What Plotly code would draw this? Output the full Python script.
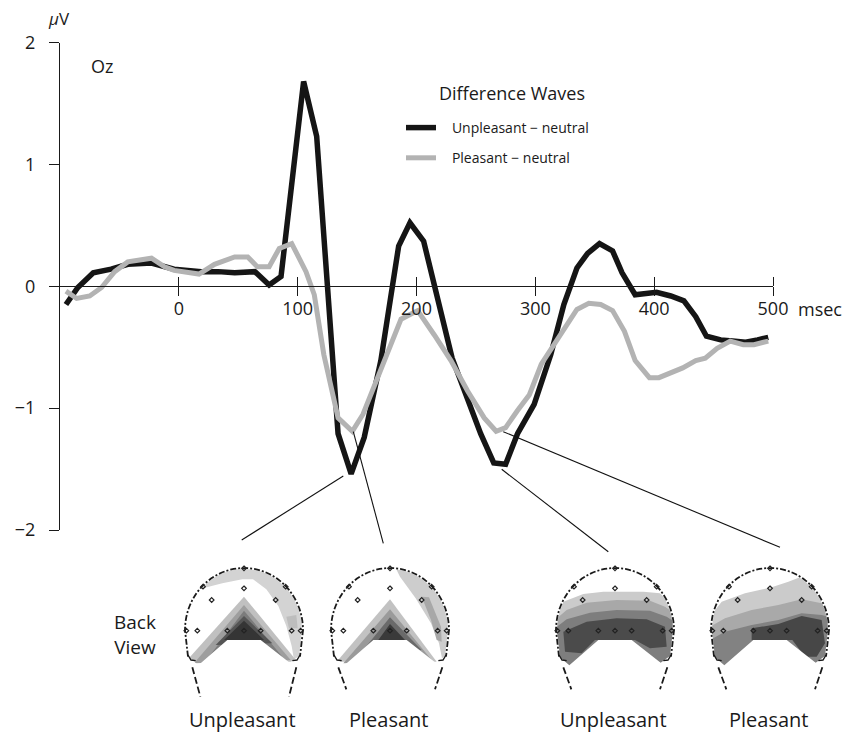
import math
import plotly.graph_objects as go

# ---------------- data ----------------
time_unpleasant = [-95, -85, -72, -57, -43, -32, -23, -4, 19, 33, 47, 64, 76, 86, 105, 116,
                   134, 145, 156, 170, 185, 194.5, 206, 230, 254, 265, 275, 285, 299, 313, 324,
                   335, 344, 354, 365, 373, 384, 402, 414, 425, 435, 444, 456, 466, 477, 487, 496]
uv_unpleasant = [-0.15, -0.01, 0.11, 0.14, 0.18, 0.19, 0.19, 0.14, 0.12, 0.12, 0.11, 0.12, 0.01,
                 0.08, 1.68, 1.23, -1.21, -1.54, -1.24, -0.61, 0.33, 0.52, 0.37, -0.59, -1.21,
                 -1.45, -1.46, -1.21, -0.97, -0.56, -0.15, 0.15, 0.27, 0.35, 0.29, 0.11, -0.07,
                 -0.05, -0.08, -0.12, -0.25, -0.41, -0.44, -0.45, -0.46, -0.44, -0.42]

time_pleasant = [-95, -86, -75, -65, -54, -43, -23, -12, -4, 6, 17, 30, 47, 58, 66, 76, 84.5, 95,
                 107, 114, 122, 134, 146, 155, 164, 176, 187, 195, 201, 215, 229, 243, 257, 267,
                 275, 285, 295, 305, 316, 327, 335, 345, 355, 365, 375, 384, 396, 404, 414, 424,
                 435, 443, 453, 464, 475, 484, 496]
uv_pleasant = [-0.04, -0.10, -0.08, -0.01, 0.12, 0.20, 0.23, 0.16, 0.13, 0.12, 0.10, 0.18, 0.24,
               0.24, 0.16, 0.16, 0.31, 0.35, 0.12, -0.07, -0.56, -1.08, -1.19, -1.05, -0.83,
               -0.53, -0.27, -0.23, -0.20, -0.40, -0.61, -0.86, -1.08, -1.19, -1.16, -1.02,
               -0.89, -0.64, -0.48, -0.31, -0.19, -0.14, -0.15, -0.20, -0.37, -0.61, -0.75,
               -0.75, -0.71, -0.67, -0.61, -0.59, -0.51, -0.45, -0.48, -0.48, -0.45]

x_tickvals = [0, 100, 200, 300, 400, 500]
x_ticktext = ["0", "100", "200", "300", "400", "500"]
y_tickvals = [-2, -1, 0, 1, 2]

series_names = ["Unpleasant \u2212 neutral", "Pleasant \u2212 neutral"]
legend_title = "Difference Waves"
map_labels = ["Unpleasant", "Pleasant", "Unpleasant", "Pleasant"]

# ---------------- layout geometry ----------------
W, H = 843, 732
FONT = "Open Sans, Noto Sans, DejaVu Sans, sans-serif"
INK = "#1a1a1a"
X_DOM = [60 / W, 773 / W]
Y_DOM = [1 - 530 / H, 1 - 42.5 / H]
zero_pos = Y_DOM[0] + (0 - (-2)) / 4 * (Y_DOM[1] - Y_DOM[0])


def px(x):
    return x / W


def py(y):
    return 1 - y / H


PAD = "&nbsp;&nbsp;&nbsp;"

fig = go.Figure()
fig.add_trace(go.Scatter(x=time_unpleasant, y=uv_unpleasant, mode="lines",
                         name=PAD + series_names[0],
                         line=dict(color="#151515", width=5.5), legendgroup="a",
                         hoverinfo="skip"))
fig.add_trace(go.Scatter(x=time_pleasant, y=uv_pleasant, mode="lines",
                         name=PAD + series_names[1],
                         line=dict(color="#b3b3b3", width=5), legendgroup="b",
                         xaxis="x2", hoverinfo="skip"))

shapes = []
annotations = []

# pointer lines from the waves to the maps
pointer_lines = [((343.3, 476), (241.7, 540)), ((353.3, 431.7), (383.3, 543.3)),
                 ((501.7, 469.3), (608.3, 551.7)), ((503.3, 431.7), (780, 547.3))]
for (x0, y0), (x1, y1) in pointer_lines:
    shapes.append(dict(type="line", xref="paper", yref="paper", x0=px(x0), y0=py(y0),
                       x1=px(x1), y1=py(y1), line=dict(color="#111", width=1.1)))

# ---------------- topographic maps (decorative, drawn as shapes) ----------------
map_centres = [244, 390, 615, 770]
OY = 560


def to_path(ox, pts, close=True):
    s = ""
    for i, (dx, dy) in enumerate(pts):
        s += ("M" if i == 0 else "L") + f"{px(ox + dx / 3):.5f},{py(OY + dy / 3):.5f}"
    return s + ("Z" if close else "")


def poly(ox, pts, color):
    shapes.append(dict(type="path", xref="paper", yref="paper", path=to_path(ox, pts),
                       fillcolor=color, line=dict(width=0), layer="above"))


def stroke(ox, pts, width=1.6, dash=None, color=INK):
    line = dict(color=color, width=width)
    if dash:
        line["dash"] = dash
    shapes.append(dict(type="path", xref="paper", yref="paper",
                       path=to_path(ox, pts, close=False), fillcolor="rgba(0,0,0,0)",
                       line=line))


arc_in = [(195 + 174 * math.cos(math.radians(a)), 210 - 183 * math.sin(math.radians(a)))
          for a in range(180, -1, -6)]
domain = arc_in + [(369, 210), (360, 288), (332, 308), (245, 240), (145, 240), (58, 316),
                   (30, 292), (21, 210)]
box = [(-30, -12), (420, -12), (420, 352), (-30, 352)]
arc_out = [(195 + 177 * math.cos(math.radians(a)), 210 - 186 * math.sin(math.radians(a)))
           for a in range(180, -1, -4)]
outline = [(27, 290), (18, 210)] + arc_out + [(372, 210), (363, 290)]
electrodes = [(195, 25), (195, 85), (98, 120), (290, 120), (72, 80), (320, 80), (22, 212),
              (55, 212), (145, 212), (195, 212), (245, 212), (338, 212), (365, 212)]

layers = [
    [  # unpleasant, 145 ms
        ([(-15, -5), (405, -5), (405, 335), (-15, 335)], "#d3d3d3"),
        ([(0, 95), (60, 88), (130, 70), (190, 58), (222, 58), (262, 88), (298, 138), (322, 198),
          (338, 258), (345, 300), (345, 335), (0, 335)], "#ffffff"),
        ([(322, 170), (352, 165), (356, 205), (330, 205)], "#bdbdbd"),
        ([(195, 110), (355, 305), (20, 305)], "#c0c0c0"),
        ([(195, 135), (335, 300), (45, 310)], "#9e9e9e"),
        ([(195, 152), (310, 290), (75, 310)], "#7c7c7c"),
        ([(195, 168), (280, 250), (110, 255)], "#555555"),
        ([(195, 182), (255, 240), (135, 240)], "#353535"),
    ],
    [  # pleasant, 145 ms
        ([(205, 10), (400, 10), (400, 335), (352, 300), (342, 250), (318, 190), (272, 115),
          (225, 50)], "#cdcdcd"),
        ([(290, 110), (312, 112), (348, 200), (350, 245), (335, 240), (318, 180)], "#a8a8a8"),
        ([(195, 118), (335, 305), (35, 305)], "#c2c2c2"),
        ([(195, 148), (320, 300), (55, 310)], "#9a9a9a"),
        ([(195, 172), (290, 270), (90, 300)], "#6a6a6a"),
        ([(195, 192), (240, 240), (160, 240)], "#3a3a3a"),
    ],
    [  # unpleasant, 275 ms
        ([(15, 160), (40, 125), (100, 102), (160, 95), (280, 95), (330, 100), (360, 130),
          (380, 150), (380, 335), (15, 335)], "#cbcbcb"),
        ([(15, 180), (50, 150), (110, 128), (200, 120), (300, 122), (345, 140), (380, 165),
          (380, 335), (15, 335)], "#a8a8a8"),
        ([(15, 205), (50, 178), (120, 158), (200, 150), (300, 152), (350, 170), (380, 190),
          (380, 335), (15, 335)], "#7e7e7e"),
        ([(40, 215), (110, 185), (200, 175), (290, 178), (345, 200), (350, 260), (300, 265),
          (255, 240), (135, 240), (95, 280), (45, 275)], "#4b4b4b"),
    ],
    [  # pleasant, 275 ms
        ([(15, 170), (50, 125), (120, 100), (200, 82), (250, 65), (285, 52), (330, 75),
          (370, 120), (390, 140), (390, 335), (15, 335)], "#cbcbcb"),
        ([(15, 200), (60, 175), (140, 150), (220, 135), (290, 118), (350, 130), (390, 150),
          (390, 335), (15, 335)], "#a9a9a9"),
        ([(15, 240), (60, 215), (140, 195), (220, 180), (290, 160), (350, 165), (390, 175),
          (390, 335), (15, 335)], "#828282"),
        ([(140, 205), (220, 192), (290, 168), (350, 180), (360, 250), (335, 290), (300, 290),
          (262, 240), (140, 240)], "#474747"),
    ],
]

for i, cx in enumerate(map_centres):
    ox = cx - 65
    for pts, col in layers[i]:
        poly(ox, pts, col)
    # white mask outside the head (box one way, head domain the other way => hole)
    mask_path = to_path(ox, box) + to_path(ox, list(reversed(domain)))
    shapes.append(dict(type="path", xref="paper", yref="paper", path=mask_path,
                       fillcolor="#ffffff", line=dict(width=0), layer="above"))
    # head outline, ear hooks and neck
    stroke(ox, outline, width=1.8, dash="6px,2px,2px,2px")
    stroke(ox, [(27, 285), (36, 300), (50, 302)], width=1.4)
    stroke(ox, [(363, 285), (354, 300), (340, 302)], width=1.4)
    neck_end = 410 if i == 0 else 388
    stroke(ox, [(40, 322), (64, neck_end)], width=1.8, dash="7px,3px")
    stroke(ox, [(352, 322), (330, neck_end)], width=1.8, dash="7px,3px")
    # electrodes
    for ex, ey in electrodes:
        d = 7
        shapes.append(dict(type="path", xref="paper", yref="paper",
                           path=to_path(ox, [(ex, ey - d), (ex + d, ey), (ex, ey + d),
                                             (ex - d, ey)]),
                           fillcolor="rgba(0,0,0,0)", line=dict(color="#222", width=1.2)))
    annotations.append(dict(xref="paper", yref="paper", x=px(cx - 2), y=py(719),
                            text=map_labels[i], showarrow=False, xanchor="center",
                            yanchor="middle", font=dict(size=20, color=INK, family=FONT)))

annotations += [
    dict(xref="paper", yref="paper", x=px(135), y=py(634), text="Back<br>View",
         showarrow=False, xanchor="center", yanchor="middle", align="center",
         font=dict(size=19, color=INK, family=FONT)),
    dict(xref="paper", yref="paper", x=px(46), y=py(19), text="<i>\u03bc</i>V",
         showarrow=False, xanchor="left", yanchor="middle",
         font=dict(size=17, color=INK, family=FONT)),
    dict(xref="paper", yref="paper", x=px(89), y=py(66), text="Oz",
         showarrow=False, xanchor="left", yanchor="middle",
         font=dict(size=18, color=INK, family=FONT)),
    dict(xref="paper", yref="paper", x=px(796), y=py(309), text="msec",
         showarrow=False, xanchor="left", yanchor="middle",
         font=dict(size=18, color=INK, family=FONT)),
    dict(xref="paper", yref="paper", x=px(437), y=py(93), text=legend_title,
         showarrow=False, xanchor="left", yanchor="middle",
         font=dict(size=18, color=INK, family=FONT)),
]

axis_common = dict(showgrid=False, zeroline=False, tickcolor=INK, tickwidth=1.2,
                   tickfont=dict(size=18, color=INK, family=FONT))

fig.update_layout(
    width=W, height=H, margin=dict(l=0, r=0, t=0, b=0, autoexpand=False),
    paper_bgcolor="white", plot_bgcolor="white",
    font=dict(family=FONT, color=INK),
    xaxis=dict(domain=X_DOM, range=[-100, 500], anchor="free", position=zero_pos,
               showline=True, linecolor=INK, linewidth=1.2, ticks="outside", ticklen=9,
               tickmode="array", tickvals=x_tickvals, ticktext=x_ticktext,
               ticklabelstandoff=-3, automargin=False, **axis_common),
    xaxis2=dict(domain=X_DOM, range=[-100, 500], matches="x", overlaying="x", anchor="free",
                position=zero_pos, side="top", showline=False, ticks="outside", ticklen=9,
                tickmode="array", tickvals=x_tickvals, showticklabels=False,
                automargin=False, **axis_common),
    yaxis=dict(domain=Y_DOM, range=[-2, 2], anchor="x", showline=True, linecolor=INK,
               linewidth=1.2, ticks="outside", ticklen=10, tickmode="array",
               tickvals=y_tickvals, ticklabelstandoff=10, automargin=False, **axis_common),
    legend=dict(x=px(401), y=py(112), xanchor="left", yanchor="top",
                bgcolor="rgba(0,0,0,0)", font=dict(size=14, family=FONT, color=INK),
                tracegroupgap=9, traceorder="grouped"),
    shapes=shapes, annotations=annotations, showlegend=True,
)

fig.write_html(
    "out.html",
    config={"displayModeBar": False},
    post_script="document.body.style.margin='0';document.body.style.padding='0';"
                "document.documentElement.style.overflow='hidden';",
)
